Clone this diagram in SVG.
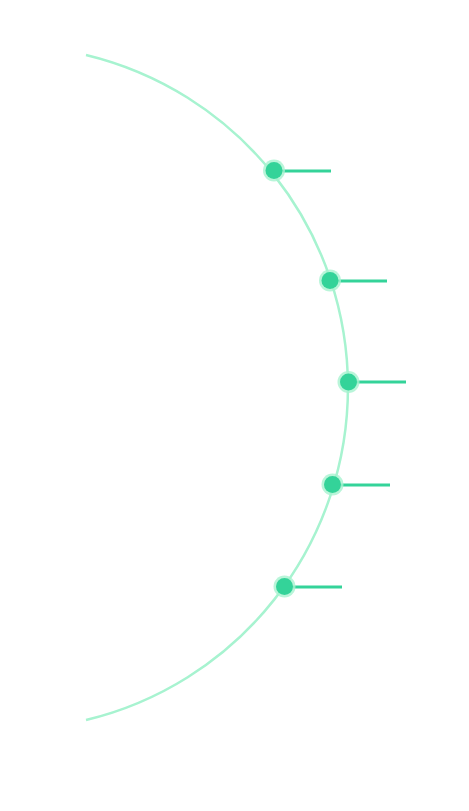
<svg xmlns="http://www.w3.org/2000/svg" width="469" height="811" viewBox="0 0 469 811">
<style>
.arc{fill:none;stroke:#a7f3d0;stroke-width:2.5}
.lead{stroke:#34d399;stroke-width:3}
.halo{fill:#a7f3d0;opacity:0.8}
.dot{fill:#34d399}
</style>
<rect width="469" height="811" fill="#ffffff"/>
<g id="connectors">
<path class="arc" d="M86 55 A342 342 0 0 1 86 720"/>
<line class="lead" x1="274" y1="171" x2="331" y2="171"/>
<line class="lead" x1="330" y1="281" x2="387" y2="281"/>
<line class="lead" x1="348" y1="382" x2="406" y2="382"/>
<line class="lead" x1="332" y1="485" x2="390" y2="485"/>
<line class="lead" x1="284" y1="587" x2="342" y2="587"/>
</g>
<g id="node1"><circle class="halo" cx="274" cy="170.5" r="11"/><circle class="dot" cx="274" cy="170.5" r="8.5"/></g>
<g id="node2"><circle class="halo" cx="330" cy="280.5" r="11"/><circle class="dot" cx="330" cy="280.5" r="8.5"/></g>
<g id="node3"><circle class="halo" cx="348.5" cy="382" r="11"/><circle class="dot" cx="348.5" cy="382" r="8.5"/></g>
<g id="node4"><circle class="halo" cx="332.5" cy="484.5" r="11"/><circle class="dot" cx="332.5" cy="484.5" r="8.5"/></g>
<g id="node5"><circle class="halo" cx="284.5" cy="586.5" r="11"/><circle class="dot" cx="284.5" cy="586.5" r="8.5"/></g>
</svg>
